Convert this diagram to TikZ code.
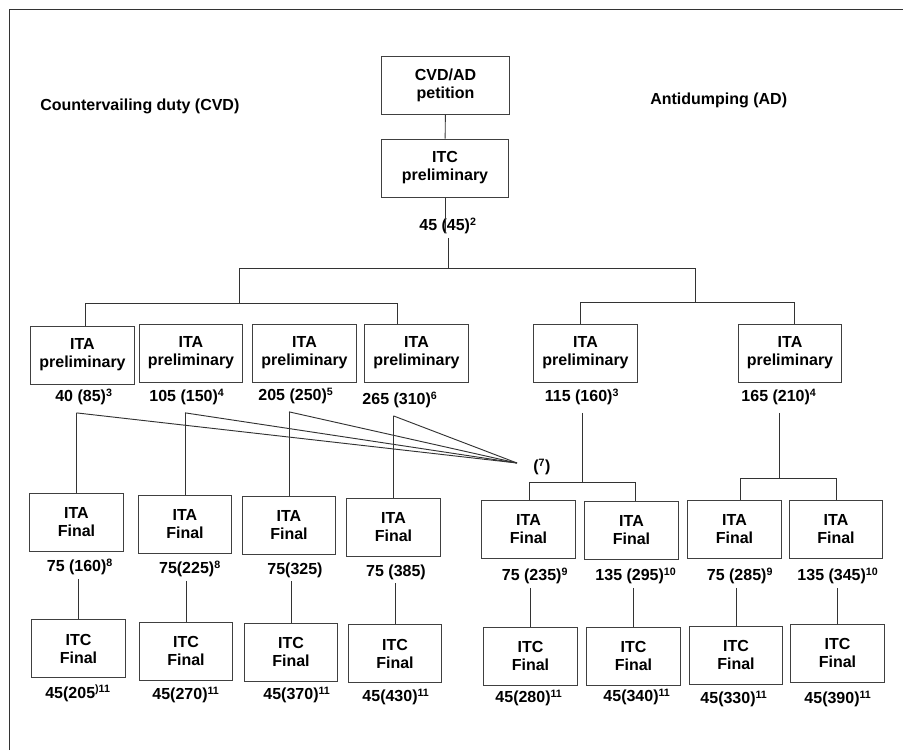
\documentclass[tikz,border=0pt]{standalone}
\usepackage{fontspec}
\setmainfont{Liberation Sans}
\usetikzlibrary{calc}

\tikzset{
  stage/.style={draw=black!75, line width=0.75pt, align=center, inner sep=0pt,
    minimum height=43.5pt, font=\bfseries\fontsize{12}{13.5}\selectfont},
  topstage/.style={stage, minimum width=95.5pt},
  prelimstage/.style={stage, minimum width=77.5pt},
  finalstage/.style={stage, minimum width=70pt},
  days/.style={inner sep=2.5pt, font=\bfseries\fontsize{12}{14}\selectfont},
  prelimdays/.style={days, inner ysep=5.5pt},
  heading/.style={anchor=west, inner sep=0pt, font=\bfseries\fontsize{12}{14}\selectfont},
  link/.style={draw=black!80, line width=0.7pt},
}

\begin{document}
\begin{tikzpicture}[x=0.75pt,y=0.75pt,yscale=-1,xscale=1]
\useasboundingbox (0,0) rectangle (903,750);

%Frame
\draw[link] (9,750) -- (9,9) -- (903,9);

% Text Node
\node[heading] (cvdhead) at (40,106) {Countervailing duty (CVD)};
% Text Node
\node[heading] (adhead) at (650,100) {Antidumping (AD)};

%Shape: petition and ITC preliminary
\node[topstage] (petition) at (445.5,85) {CVD/AD\\petition};
\node[topstage] (itcprelim) at (445,168) {ITC\\preliminary};
\node[days] (d0) at (448,226) {45 (45)\textsuperscript{2}};
\draw[link] (petition) -- (itcprelim);
\draw[link] (itcprelim.south) -- ($(itcprelim.south |- d0.center)+(0,7)$);

%Straight Lines: main split
\coordinate (cvdfork) at (239,268);
\coordinate (adfork) at (695,268);
\draw[link] (d0.south) -- (d0.south |- cvdfork);
\draw[link] (cvdfork) -- (adfork);

%Straight Lines: CVD split
\coordinate (cvdl) at (85,303);
\coordinate (cvdr) at (397,303);
\draw[link] (cvdfork) -- (cvdfork |- cvdl);
\draw[link] (cvdl) -- (cvdr);

%Straight Lines: AD split
\coordinate (adl) at (580,302);
\coordinate (adr) at (794,302);
\draw[link] (adfork) -- (adfork |- adl);
\draw[link] (adl) -- (adr);

%Shape: ITA preliminary (CVD)
\node[prelimstage] (cvdp1) at (82.5,355) {ITA\\preliminary};
\node[prelimstage] (cvdp2) at (191,353) {ITA\\preliminary};
\node[prelimstage] (cvdp3) at (304.5,353) {ITA\\preliminary};
\node[prelimstage] (cvdp4) at (416.5,353) {ITA\\preliminary};
\draw[link] (cvdl) -- (cvdl |- cvdp1.north);
\draw[link] (cvdr) -- (cvdr |- cvdp4.north);

% Text Node
\node[prelimdays] (dp1) at (84,397) {40 (85)\textsuperscript{3}};
\node[prelimdays] (dp2) at (187,397) {105 (150)\textsuperscript{4}};
\node[prelimdays] (dp3) at (296,396) {205 (250)\textsuperscript{5}};
\node[prelimdays] (dp4) at (400,400) {265 (310)\textsuperscript{6}};

%Shape: ITA preliminary (AD)
\node[prelimstage] (adp1) at (585.5,353) {ITA\\preliminary};
\node[prelimstage] (adp2) at (790,353) {ITA\\preliminary};
\draw[link] (adl) -- (adl |- adp1.north);
\draw[link] (adr) -- (adr |- adp2.north);

% Text Node
\node[prelimdays] (dp5) at (582,397) {115 (160)\textsuperscript{3}};
\node[prelimdays] (dp6) at (779,397) {165 (210)\textsuperscript{4}};

%Shape: ITA Final (CVD)
\node[finalstage] (cvdf1) at (76.5,522) {ITA\\Final};
\node[finalstage] (cvdf2) at (185,524) {ITA\\Final};
\node[finalstage] (cvdf3) at (289,525) {ITA\\Final};
\node[finalstage] (cvdf4) at (393.5,527.5) {ITA\\Final};

%Straight Lines: fan to note 7
\coordinate (join) at (517,463);
\node[heading] (note7) at (533,467) {(\textsuperscript{7})};
\draw[link] (cvdf1.north |- dp1.south) -- (cvdf1.north);
\draw[link] (cvdf2.north |- dp2.south) -- (cvdf2.north);
\draw[link] (cvdf3.north |- dp3.south) -- (cvdf3.north);
\draw[link] (cvdf4.north |- dp4.south) -- (cvdf4.north);
\draw[link] (cvdf1.north |- dp1.south) -- (join);
\draw[link] (cvdf2.north |- dp2.south) -- (join);
\draw[link] (cvdf3.north |- dp3.south) -- (join);
\draw[link] (cvdf4.north |- dp4.south) -- (join);

% Text Node
\node[days] (df1) at (80,567) {75 (160)\textsuperscript{8}};
\node[days] (df2) at (190,569) {75(225)\textsuperscript{8}};
\node[days] (df3) at (295,570) {75(325)};
\node[days] (df4) at (396,572) {75 (385)};

%Shape: ITA Final (AD)
\coordinate (ad1l) at (529,482);
\coordinate (ad1r) at (635,482);
\coordinate (ad2l) at (740,478);
\coordinate (ad2r) at (836,478);
\node[finalstage] (adf1) at (528.5,529.5) {ITA\\Final};
\node[finalstage] (adf2) at (631.5,530) {ITA\\Final};
\node[finalstage] (adf3) at (734.5,529) {ITA\\Final};
\node[finalstage] (adf4) at (836,529.5) {ITA\\Final};
\draw[link] (dp5.south) -- (dp5.south |- ad1l);
\draw[link] (ad1l) -- (ad1r);
\draw[link] (ad1l) -- (ad1l |- adf1.north);
\draw[link] (ad1r) -- (ad1r |- adf2.north);
\draw[link] (dp6.south) -- (dp6.south |- ad2l);
\draw[link] (ad2l) -- (ad2r);
\draw[link] (ad2l) -- (ad2l |- adf3.north);
\draw[link] (ad2r) -- (ad2r |- adf4.north);

% Text Node
\node[days] (df5) at (535,576) {75 (235)\textsuperscript{9}};
\node[days] (df6) at (636,576) {135 (295)\textsuperscript{10}};
\node[days] (df7) at (740,576) {75 (285)\textsuperscript{9}};
\node[days] (df8) at (838,576) {135 (345)\textsuperscript{10}};

%Shape: ITC Final (CVD)
\node[finalstage] (cvdc1) at (78.5,648.5) {ITC\\Final};
\node[finalstage] (cvdc2) at (186,651) {ITC\\Final};
\node[finalstage] (cvdc3) at (291,652) {ITC\\Final};
\node[finalstage] (cvdc4) at (395,653.5) {ITC\\Final};
\draw[link] (cvdc1.north |- df1.south) -- (cvdc1.north);
\draw[link] (cvdc2.north |- df2.south) -- (cvdc2.north);
\draw[link] (cvdc3.north |- df3.south) -- (cvdc3.north);
\draw[link] (cvdc4.north |- df4.south) -- (cvdc4.north);

%Shape: ITC Final (AD)
\node[finalstage] (adc1) at (530.5,656) {ITC\\Final};
\node[finalstage] (adc2) at (633.5,656) {ITC\\Final};
\node[finalstage] (adc3) at (736,655) {ITC\\Final};
\node[finalstage] (adc4) at (837.5,653) {ITC\\Final};
\draw[link] (adc1.north |- df5.south) -- (adc1.north);
\draw[link] (adc2.north |- df6.south) -- (adc2.north);
\draw[link] (adc3.north |- df7.south) -- (adc3.north);
\draw[link] (adc4.north |- df8.south) -- (adc4.north);

% Text Node
\node[days] (dc1) at (78,693) {45(205\textsuperscript{)11}};
\node[days] (dc2) at (186,695) {45(270)\textsuperscript{11}};
\node[days] (dc3) at (297,695) {45(370)\textsuperscript{11}};
\node[days] (dc4) at (396,697) {45(430)\textsuperscript{11}};
\node[days] (dc5) at (529,698) {45(280)\textsuperscript{11}};
\node[days] (dc6) at (637,697) {45(340)\textsuperscript{11}};
\node[days] (dc7) at (734,699) {45(330)\textsuperscript{11}};
\node[days] (dc8) at (838,699) {45(390)\textsuperscript{11}};

\end{tikzpicture}
\end{document}
